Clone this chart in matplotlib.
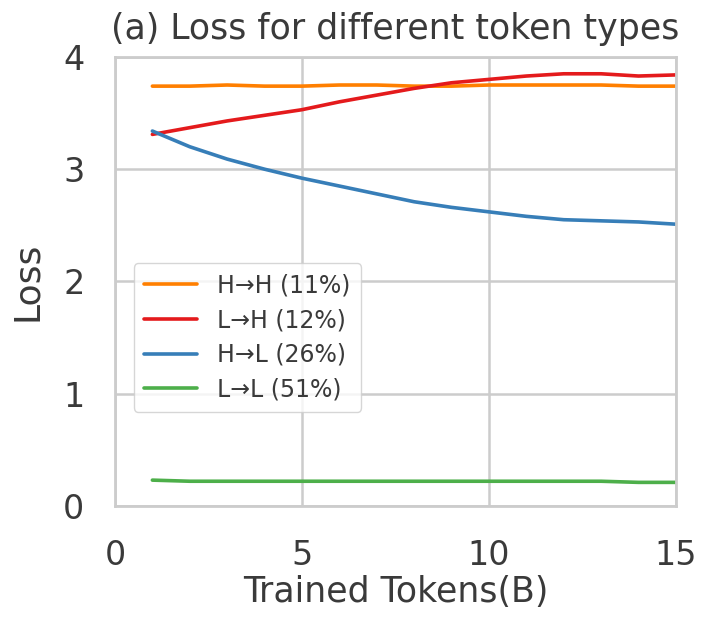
import matplotlib
matplotlib.use("Agg")
import matplotlib.pyplot as plt
import seaborn as sns

sns.set_theme(style="whitegrid")
plt.rcParams['font.family'] = ['DejaVu Sans']

tokens = [1, 2, 3, 4, 5, 6, 7, 8, 9, 10, 11, 12, 13, 14, 15]
hh = [3.74, 3.74, 3.75, 3.74, 3.74, 3.75, 3.75, 3.74, 3.74, 3.75, 3.75, 3.75, 3.75, 3.74, 3.74]
lh = [3.31, 3.37, 3.43, 3.48, 3.53, 3.60, 3.66, 3.72, 3.77, 3.80, 3.83, 3.85, 3.85, 3.83, 3.84]
hl = [3.34, 3.20, 3.09, 3.00, 2.92, 2.85, 2.78, 2.71, 2.66, 2.62, 2.58, 2.55, 2.54, 2.53, 2.51]
ll = [0.23, 0.22, 0.22, 0.22, 0.22, 0.22, 0.22, 0.22, 0.22, 0.22, 0.22, 0.22, 0.22, 0.21, 0.21]
labels = ["H→H (11%)", "L→H (12%)", "H→L (26%)", "L→L (51%)"]
colors = ["#ff7f00", "#e41a1c", "#377eb8", "#4daf4a"]

fig = plt.figure(figsize=(7.02, 6.17), dpi=100)
ax = fig.add_axes([0.1638, 0.18, 0.799, 0.7277])
for ys, lab, c in zip([hh, lh, hl, ll], labels, colors):
    ax.plot(tokens, ys, color=c, lw=2.6, label=lab)

ax.set_xlim(0, 15)
ax.set_ylim(0, 4)
ax.set_xticks([0, 5, 10, 15])
ax.set_yticks([0, 1, 2, 3, 4])
ax.tick_params(labelsize=24, colors="#3a3a3a")
ax.tick_params(axis="y", pad=16)
ax.tick_params(axis="x", pad=18)
ax.set_xlabel("Trained Tokens(B)", fontsize=25, color="#3a3a3a", labelpad=2)
ax.set_ylabel("Loss", fontsize=26, color="#3a3a3a", labelpad=14)
ax.set_title("(a) Loss for different token types", fontsize=25, color="#3a3a3a", pad=13)
for s in ax.spines.values():
    s.set_color("#cccccc")
    s.set_linewidth(2)
ax.grid(True, color="#cccccc", lw=1.8)
leg = ax.legend(loc="center left", bbox_to_anchor=(0.012, 0.375), fontsize=17,
                handlelength=2.25, handletextpad=0.85, labelspacing=0.45,
                borderpad=0.45, frameon=True)
for t in leg.get_texts():
    t.set_color("#3a3a3a")

fig.savefig("out.png", dpi=100)
